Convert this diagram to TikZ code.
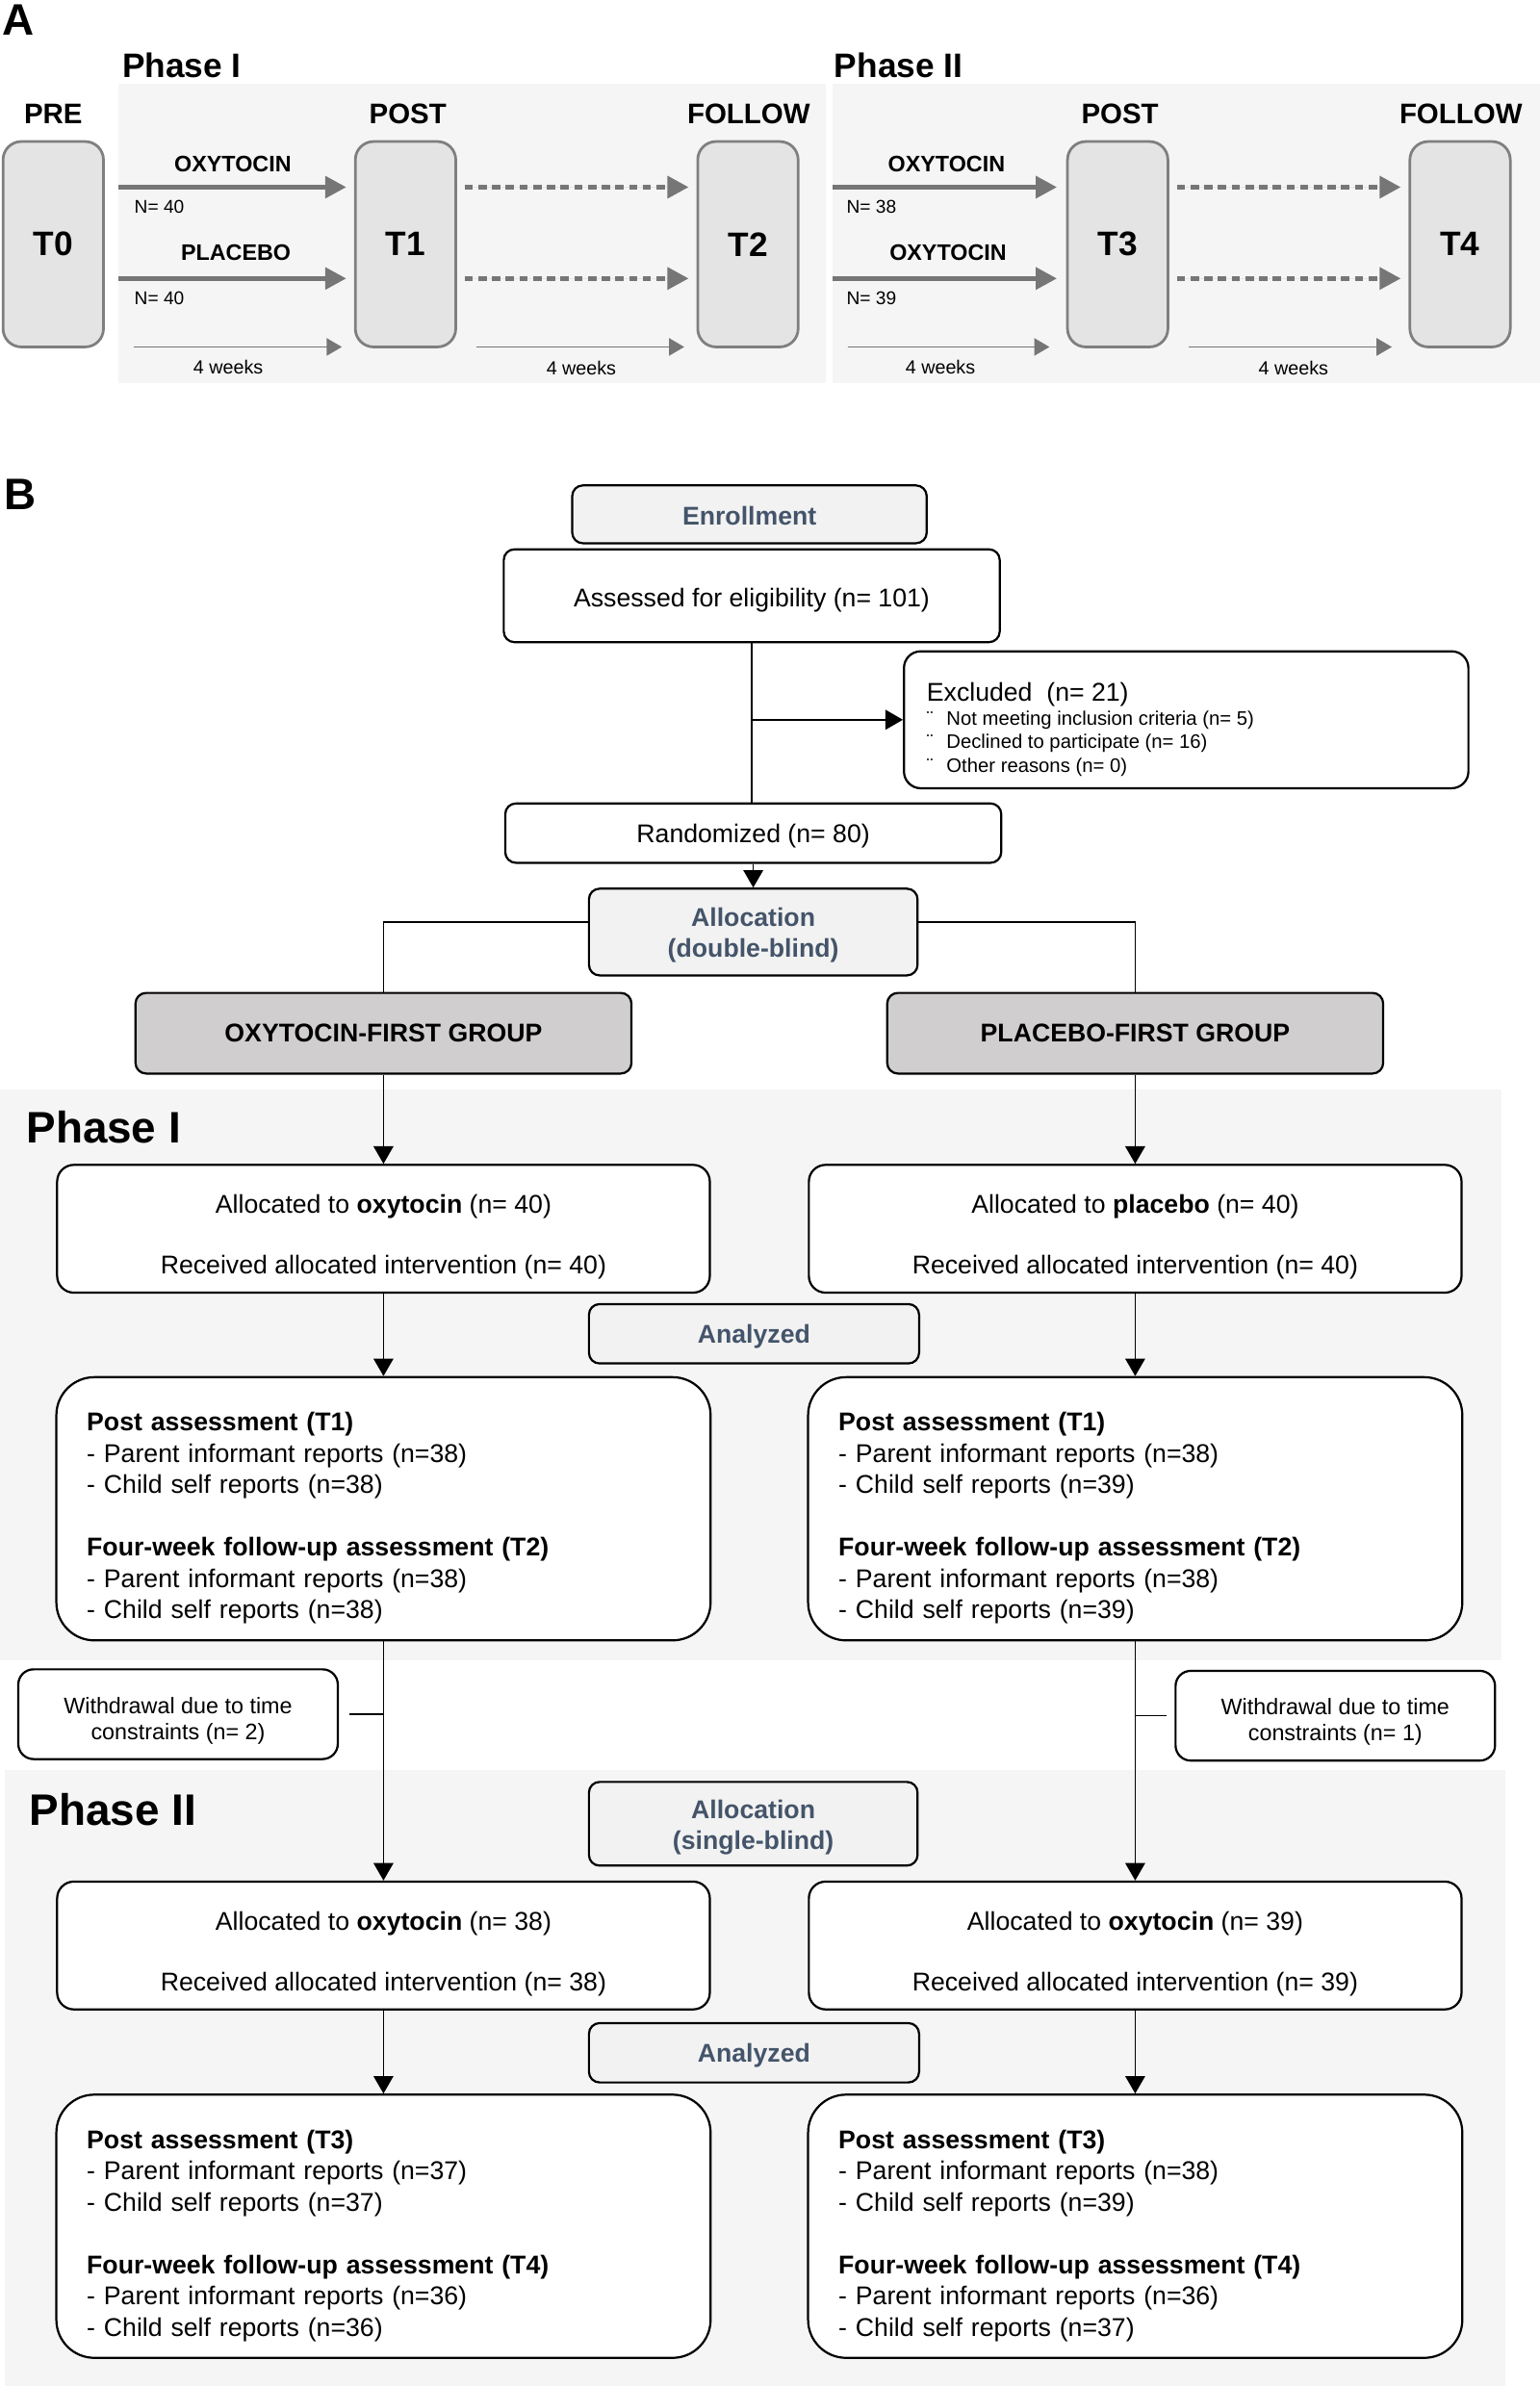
\documentclass[tikz,border=0pt]{standalone}
\usepackage{fontspec}
\setmainfont{Liberation Sans}
\usetikzlibrary{arrows.meta, positioning, calc}

\definecolor{phasebg}{HTML}{F5F5F5}
\definecolor{tfill}{HTML}{E4E4E4}
\definecolor{tline}{HTML}{7F7F7F}
\definecolor{arrgray}{HTML}{767676}
\definecolor{groupfill}{HTML}{D0CECE}
\definecolor{headfill}{HTML}{F2F2F2}
\definecolor{slate}{HTML}{44546A}

\begin{document}
\begin{tikzpicture}[x=0.02cm, y=-0.02cm,
    panel/.style={font=\fontsize{16.5}{18}\selectfont\bfseries, inner sep=0},
    phasehead/.style={font=\fontsize{12.7}{14}\selectfont\bfseries, anchor=west, inner sep=0},
    phasetitle/.style={font=\fontsize{16.5}{18}\selectfont\bfseries, anchor=west, inner sep=0},
    tbox/.style={rectangle, draw=tline, fill=tfill, line width=1pt, rounded corners=0.24cm, minimum width=1.32cm, minimum height=2.7cm, font=\fontsize{12.7}{14}\selectfont\bfseries},
    timelabel/.style={font=\fontsize{10.6}{12}\selectfont\bfseries},
    druglabel/.style={font=\fontsize{8.4}{10}\selectfont\bfseries},
    nlabel/.style={font=\fontsize{6.9}{8}\selectfont, anchor=west, inner sep=0},
    weeklabel/.style={font=\fontsize{7.1}{8}\selectfont},
    drugarrow/.style={draw=arrgray, fill=arrgray, line width=2pt, -{Triangle[length=0.28cm, width=0.28cm]}},
    washarrow/.style={drugarrow, dash pattern=on 0.11cm off 0.07cm},
    weekarrow/.style={draw=arrgray, fill=arrgray, line width=0.5pt, -{Triangle[length=0.2cm, width=0.23cm]}},
    box/.style={rectangle, draw, line width=0.8pt, fill=white, rounded corners=0.14cm, align=center, font=\fontsize{9.6}{11.5}\selectfont},
    headbox/.style={box, fill=headfill, text=slate, font=\fontsize{9.6}{11.5}\selectfont\bfseries},
    groupbox/.style={box, fill=groupfill, minimum width=6.52cm, minimum height=1.06cm, font=\fontsize{9.6}{11.5}\selectfont\bfseries},
    allocbox/.style={box, rounded corners=0.22cm, minimum width=8.58cm, minimum height=1.68cm},
    postbox/.style={box, rounded corners=0.5cm, align=left, text width=7.8cm, inner xsep=0.4cm, minimum height=3.46cm, font=\fontsize{9.6}{11.7}\selectfont, execute at begin node={\rule{0pt}{14pt}}},
    wdbox/.style={box, rounded corners=0.2cm, minimum width=4.2cm, minimum height=1.18cm, font=\fontsize{8.4}{9.7}\selectfont},
    flow/.style={line width=0.6pt, -{Triangle[length=0.23cm, width=0.26cm]}},
    link/.style={line width=0.6pt},
]
\useasboundingbox (0,0) rectangle (1012,1568);

% panel A
\fill[phasebg] (78,55) rectangle (543,252);
\fill[phasebg] (547,55) rectangle (1012,252);
\node[panel] (pa) at (12,13) {A};
\node[phasehead] (pha1) at (80,43) {Phase I};
\node[phasehead] (pha2) at (548,43) {Phase II};

\node[tbox] (t0) at (35,160.5) {T0};
\node[tbox] (t1) at (266.5,160.5) {T1};
\node[tbox] (t2) at (491.5,160.5) {T2};
\node[tbox] (t3) at (734.5,160.5) {T3};
\node[tbox] (t4) at (959.5,160.5) {T4};

\node[timelabel] (pre) at (35,75) {PRE};
\node[timelabel] (post1) at (268,75) {POST};
\node[timelabel] (follow1) at (492,75) {FOLLOW};
\node[timelabel] (post2) at (736,75) {POST};
\node[timelabel] (follow2) at (960,75) {FOLLOW};

\coordinate (oxs1) at (78,123);
\coordinate (pls1) at (78,183);
\coordinate (wks1) at (88,228);
\coordinate (oxs2) at (547,123);
\coordinate (oxs3) at (547,183);
\coordinate (wks2) at (557,228);

\draw[drugarrow, shorten >=0.1cm] (oxs1) -- (oxs1 -| t1.west);
\draw[drugarrow, shorten >=0.1cm] (pls1) -- (pls1 -| t1.west);
\draw[washarrow, shorten <=0.1cm, shorten >=0.1cm] (t1.east |- oxs1) -- (t2.west |- oxs1);
\draw[washarrow, shorten <=0.1cm, shorten >=0.1cm] (t1.east |- pls1) -- (t2.west |- pls1);
\draw[weekarrow, shorten >=0.16cm] (wks1) -- (t1.west |- wks1);
\draw[weekarrow, shorten <=0.26cm, shorten >=0.16cm] (t1.east |- wks1) -- (t2.west |- wks1);
\node[druglabel] (oxl1) at (153,108) {OXYTOCIN};
\node[druglabel] (pll1) at (155,166) {PLACEBO};
\node[nlabel] (n1) at (88,136) {N= 40};
\node[nlabel] (n2) at (88,196) {N= 40};
\node[weeklabel] (wk1) at (150,241) {4 weeks};
\node[weeklabel] (wk2) at (382,242) {4 weeks};

\draw[drugarrow, shorten >=0.12cm] (oxs2) -- (oxs2 -| t3.west);
\draw[drugarrow, shorten >=0.12cm] (oxs3) -- (oxs3 -| t3.west);
\draw[washarrow, shorten <=0.1cm, shorten >=0.1cm] (t3.east |- oxs2) -- (t4.west |- oxs2);
\draw[washarrow, shorten <=0.1cm, shorten >=0.1cm] (t3.east |- oxs3) -- (t4.west |- oxs3);
\draw[weekarrow, shorten >=0.22cm] (wks2) -- (t3.west |- wks2);
\draw[weekarrow, shorten <=0.26cm, shorten >=0.22cm] (t3.east |- wks2) -- (t4.west |- wks2);
\node[druglabel] (oxl2) at (622,108) {OXYTOCIN};
\node[druglabel] (oxl3) at (623,166) {OXYTOCIN};
\node[nlabel] (n3) at (556,136) {N= 38};
\node[nlabel] (n4) at (556,196) {N= 39};
\node[weeklabel] (wk3) at (618,241) {4 weeks};
\node[weeklabel] (wk4) at (850,242) {4 weeks};

% panel B
\fill[phasebg] (0,716) rectangle (987,1091);
\fill[phasebg] (3,1163) rectangle (989,1568);
\node[panel] (pb) at (13,325) {B};
\node[phasetitle] (phb1) at (17,741) {Phase I};
\node[phasetitle] (phb2) at (19,1189) {Phase II};

\node[headbox, minimum width=4.66cm, minimum height=0.76cm] (enroll) at (492.5,338) {\rule{0pt}{8pt}Enrollment};
\node[box, minimum width=6.52cm, minimum height=1.22cm] (assess) at (494,391.5) {\rule{0pt}{10pt}Assessed for eligibility (n= 101)};
\node[box, rounded corners=0.22cm, align=flush left, text width=6.82cm, inner xsep=0.3cm, minimum height=1.8cm, font=\fontsize{7.3}{8.8}\selectfont] (excl) at (779.5,473)
  {\rule{0pt}{14pt}{\fontsize{9.6}{11.5}\selectfont Excluded\ \ (n= 21)}\\[0.2pt]
   \makebox[0.26cm][l]{¨}Not meeting inclusion criteria (n= 5)\\
   \makebox[0.26cm][l]{¨}Declined to participate (n= 16)\\
   \makebox[0.26cm][l]{¨}Other reasons (n= 0)};
\node[box, minimum width=6.52cm, minimum height=0.78cm] (rand) at (495,547.5) {\rule{0pt}{9pt}Randomized (n= 80)};
\node[headbox, minimum width=4.32cm, minimum height=1.14cm] (alloc1) at (495,612.5) {\rule{0pt}{9.5pt}Allocation\\(double-blind)};
\node[groupbox] (oxyg) at (252,679) {OXYTOCIN-FIRST GROUP};
\node[groupbox] (plag) at (746,679) {PLACEBO-FIRST GROUP};

\node[allocbox] (alloxy1) at (252,807.5) {\rule{0pt}{13pt}Allocated to \textbf{oxytocin} (n= 40)\\[11.2pt]Received allocated intervention (n= 40)};
\node[allocbox] (allpla1) at (746,807.5) {\rule{0pt}{13pt}Allocated to \textbf{placebo} (n= 40)\\[11.2pt]Received allocated intervention (n= 40)};
\node[headbox, minimum width=4.34cm, minimum height=0.78cm] (anal1) at (495.5,876.5) {\rule{0pt}{9pt}Analyzed};
\node[postbox] (postL1) at (252,991.5)
  {\textbf{Post assessment (T1)}\\
   - Parent informant reports (n=38)\\
   - Child self reports (n=38)\\[11.7pt]
   \textbf{Four-week follow-up assessment (T2)}\\
   - Parent informant reports (n=38)\\
   - Child self reports (n=38)};
\node[postbox] (postR1) at (746,991.5)
  {\textbf{Post assessment (T1)}\\
   - Parent informant reports (n=38)\\
   - Child self reports (n=39)\\[11.7pt]
   \textbf{Four-week follow-up assessment (T2)}\\
   - Parent informant reports (n=38)\\
   - Child self reports (n=39)};

\node[wdbox] (wdL) at (117,1126.5) {\rule{0pt}{11pt}Withdrawal due to time\\constraints (n= 2)};
\node[wdbox] (wdR) at (877.5,1127.5) {\rule{0pt}{11pt}Withdrawal due to time\\constraints (n= 1)};

\node[headbox, minimum width=4.32cm, minimum height=1.1cm] (alloc2) at (495,1198.5) {\rule{0pt}{10pt}Allocation\\(single-blind)};
\node[allocbox] (alloxy2L) at (252,1278.5) {\rule{0pt}{13pt}Allocated to \textbf{oxytocin} (n= 38)\\[11.2pt]Received allocated intervention (n= 38)};
\node[allocbox] (alloxy2R) at (746,1278.5) {\rule{0pt}{13pt}Allocated to \textbf{oxytocin} (n= 39)\\[11.2pt]Received allocated intervention (n= 39)};
\node[headbox, minimum width=4.34cm, minimum height=0.78cm] (anal2) at (495.5,1349) {\rule{0pt}{9pt}Analyzed};
\node[postbox] (postL2) at (252,1463)
  {\textbf{Post assessment (T3)}\\
   - Parent informant reports (n=37)\\
   - Child self reports (n=37)\\[11.7pt]
   \textbf{Four-week follow-up assessment (T4)}\\
   - Parent informant reports (n=36)\\
   - Child self reports (n=36)};
\node[postbox] (postR2) at (746,1463)
  {\textbf{Post assessment (T3)}\\
   - Parent informant reports (n=38)\\
   - Child self reports (n=39)\\[11.7pt]
   \textbf{Four-week follow-up assessment (T4)}\\
   - Parent informant reports (n=36)\\
   - Child self reports (n=37)};

\draw[link] (assess.south) -- (assess.south |- rand.north);
\draw[flow] (assess.south |- excl.west) -- (excl.west);
\draw[flow] (rand.south) -- (alloc1.north);
\draw[link] ([yshift=0.13cm]alloc1.west) -| (oxyg.north);
\draw[link] ([yshift=0.13cm]alloc1.east) -| (plag.north);
\draw[flow] (oxyg.south) -- (alloxy1.north);
\draw[flow] (plag.south) -- (allpla1.north);
\draw[flow] (alloxy1.south) -- (postL1.north);
\draw[flow] (allpla1.south) -- (postR1.north);
\draw[flow] (postL1.south) -- (alloxy2L.north);
\draw[flow] (postR1.south) -- (alloxy2R.north);
\draw[link] ([xshift=0.14cm]wdL.east) -- (wdL.east -| postL1.south);
\draw[link] ([xshift=-0.1cm]wdR.west) -- (wdR.west -| postR1.south);
\draw[flow] (alloxy2L.south) -- (postL2.north);
\draw[flow] (alloxy2R.south) -- (postR2.north);

\end{tikzpicture}
\end{document}
